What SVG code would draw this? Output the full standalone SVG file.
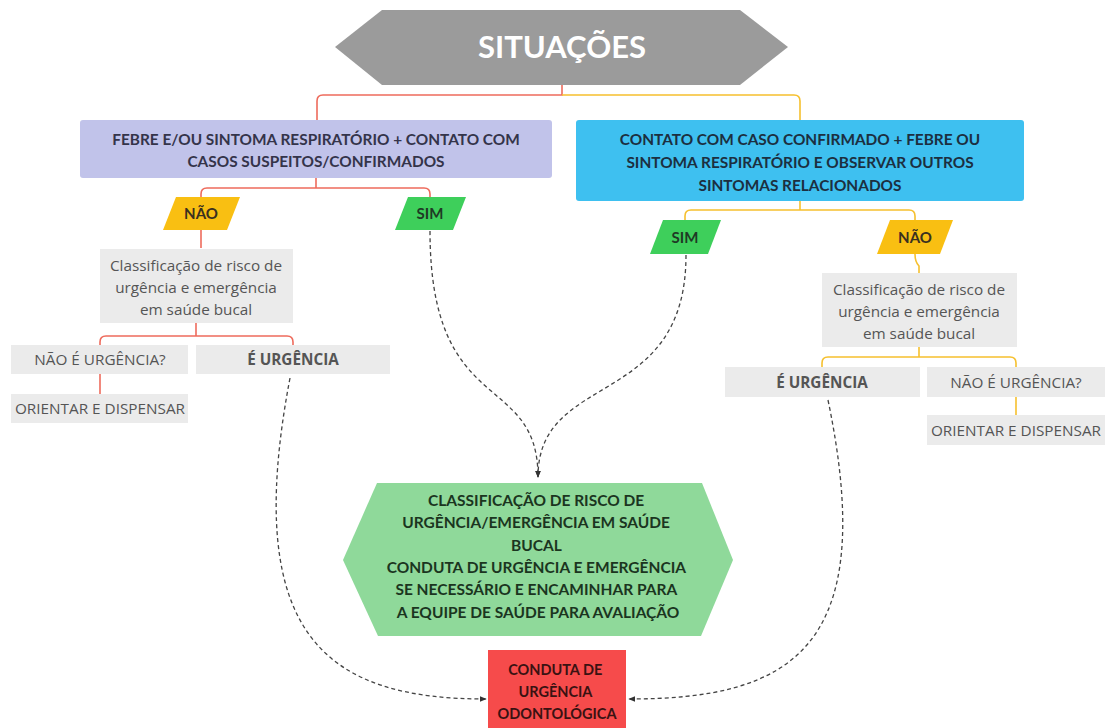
<svg xmlns="http://www.w3.org/2000/svg" width="1106" height="728" viewBox="0 0 1106 728">
<style>
.cap{font-family:Lato,"Open Sans",sans-serif;font-weight:bold;text-anchor:middle}
.reg{font-family:"Open Sans",sans-serif;text-anchor:middle;fill:#555;font-size:15.3px}
.red{fill:none;stroke:#ee6b5c;stroke-width:1.6}
.yel{fill:none;stroke:#f6c02e;stroke-width:1.6}
.dash{fill:none;stroke:#444;stroke-width:1.3;stroke-dasharray:4 3}
.gbox{fill:#ebebeb}
</style>
<defs>
<marker id="ah" viewBox="0 0 10 10" refX="9" refY="5" markerWidth="7" markerHeight="7" orient="auto" markerUnits="userSpaceOnUse">
<path d="M0,1 L10,5 L0,9 z" fill="#333"/>
</marker>
</defs>
<rect width="1106" height="728" fill="#fff"/>
<g id="connectors">
<path class="red" d="M562,85 V95 H323 Q317,95 317,101 V120"/>
<path class="yel" d="M562,95 H794 Q800,95 800,101 V120"/>
<path class="red" d="M316,178 V188"/>
<path class="red" d="M201,197 V194 Q201,188 207,188 H424 Q430,188 430,194 V197"/>
<path class="red" d="M201,230 V248"/>
<path class="red" d="M196,323 V336"/>
<path class="red" d="M100,345 V342 Q100,336 106,336 H287 Q293,336 293,342 V345"/>
<path class="red" d="M100,373 V394"/>
<path class="yel" d="M800,201 V210"/>
<path class="yel" d="M685,220 V216 Q685,210 691,210 H909 Q915,210 915,216 V220"/>
<path class="yel" d="M915,254 Q915,262 919,266 V273"/>
<path class="yel" d="M919,347 V357"/>
<path class="yel" d="M822,367 V363 Q822,357 828,357 H1010 Q1016,357 1016,363 V367"/>
<path class="yel" d="M1016,397 V415"/>
<path class="dash" d="M430,231 C430,420 538,370 538,477" marker-end="url(#ah)"/>
<path class="dash" d="M686,255 C686,410 538,370 538,477" marker-end="url(#ah)"/>
<path class="dash" d="M290,378 C240,640 330,699 486,699" marker-end="url(#ah)"/>
<path class="dash" d="M828,400 C880,650 790,699 629,699" marker-end="url(#ah)"/>
</g>
<g id="situacoes">
<polygon points="335,47 382,10 740,10 788,47 740,85 382,85" fill="#9b9b9b"/>
<text class="cap" x="562" y="58" font-size="31" fill="#fff">SITUAÇÕES</text>
</g>
<g id="left-cond">
<rect x="80" y="120" width="472" height="58" rx="3" fill="#c1c3ea"/>
<text class="cap" x="316" y="145" font-size="15.4" fill="#34344a">FEBRE E/OU SINTOMA RESPIRATÓRIO + CONTATO COM</text>
<text class="cap" x="316" y="167" font-size="15.4" fill="#34344a">CASOS SUSPEITOS/CONFIRMADOS</text>
</g>
<g id="right-cond">
<rect x="576" y="120" width="448" height="81" rx="3" fill="#3ec0f0"/>
<text class="cap" x="800" y="145" font-size="15.4" fill="#1c2f40">CONTATO COM CASO CONFIRMADO + FEBRE OU</text>
<text class="cap" x="800" y="168" font-size="15.4" fill="#1c2f40">SINTOMA RESPIRATÓRIO E OBSERVAR OUTROS</text>
<text class="cap" x="800" y="191" font-size="15.4" fill="#1c2f40">SINTOMAS RELACIONADOS</text>
</g>
<g id="left-nao">
<polygon points="163,230 176,197 240,197 227,230" fill="#f9bf12"/>
<text class="cap" x="201" y="219" font-size="15" fill="#3a3020">NÃO</text>
</g>
<g id="left-sim">
<polygon points="395,230 408,197 466,197 453,230" fill="#3ecf5b"/>
<text class="cap" x="430" y="219" font-size="15" fill="#1f3a25">SIM</text>
</g>
<g id="right-sim">
<polygon points="650,254 663,220 721,220 708,254" fill="#3ecf5b"/>
<text class="cap" x="685" y="243" font-size="15" fill="#1f3a25">SIM</text>
</g>
<g id="right-nao">
<polygon points="877,254 890,220 953,220 940,254" fill="#f9bf12"/>
<text class="cap" x="915" y="243" font-size="15" fill="#3a3020">NÃO</text>
</g>
<g id="left-class">
<rect class="gbox" x="100" y="249" width="193" height="74"/>
<text class="reg" x="196" y="271">Classificação de risco de</text>
<text class="reg" x="196" y="293">urgência e emergência</text>
<text class="reg" x="196" y="315">em saúde bucal</text>
</g>
<g id="left-nao-urg">
<rect class="gbox" x="11" y="345" width="177" height="29"/>
<text class="reg" x="100" y="365">NÃO É URGÊNCIA?</text>
</g>
<g id="left-urg">
<rect class="gbox" x="196" y="345" width="194" height="29"/>
<text class="reg" x="293" y="365" font-weight="bold" fill="#333">É URGÊNCIA</text>
</g>
<g id="left-orientar">
<rect class="gbox" x="11" y="394" width="177" height="29"/>
<text class="reg" x="100" y="414">ORIENTAR E DISPENSAR</text>
</g>
<g id="right-class">
<rect class="gbox" x="822" y="273" width="195" height="74"/>
<text class="reg" x="919" y="295">Classificação de risco de</text>
<text class="reg" x="919" y="317">urgência e emergência</text>
<text class="reg" x="919" y="339">em saúde bucal</text>
</g>
<g id="right-urg">
<rect class="gbox" x="725" y="367" width="195" height="30"/>
<text class="reg" x="822" y="388" font-weight="bold" fill="#333">É URGÊNCIA</text>
</g>
<g id="right-nao-urg">
<rect class="gbox" x="927" y="367" width="178" height="30"/>
<text class="reg" x="1016" y="388">NÃO É URGÊNCIA?</text>
</g>
<g id="right-orientar">
<rect class="gbox" x="927" y="415" width="178" height="30"/>
<text class="reg" x="1016" y="436">ORIENTAR E DISPENSAR</text>
</g>
<g id="center-hex">
<polygon points="343,560 377,483 702,483 733,560 701,636 378,636" fill="#8fd99a"/>
<text class="cap" font-size="15.5" fill="#1b351f">
<tspan x="538" y="506">CLASSIFICAÇÃO DE RISCO DE</tspan>
<tspan x="538" y="528">URGÊNCIA/EMERGÊNCIA EM SAÚDE</tspan>
<tspan x="538" y="551">BUCAL</tspan>
<tspan x="538" y="573">CONDUTA DE URGÊNCIA E EMERGÊNCIA</tspan>
<tspan x="538" y="595">SE NECESSÁRIO E ENCAMINHAR PARA</tspan>
<tspan x="538" y="618">A EQUIPE DE SAÚDE PARA AVALIAÇÃO</tspan>
</text>
</g>
<g id="conduta">
<rect x="488" y="650" width="138" height="80" fill="#f64b4b"/>
<text class="cap" font-size="14.5" fill="#3a1212">
<tspan x="557" y="675">CONDUTA DE</tspan>
<tspan x="557" y="697">URGÊNCIA</tspan>
<tspan x="557" y="719">ODONTOLÓGICA</tspan>
</text>
</g>
</svg>
